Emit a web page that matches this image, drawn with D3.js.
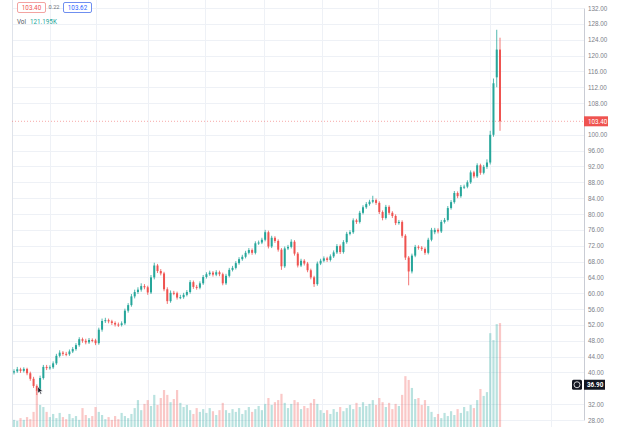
<!DOCTYPE html>
<html>
<head>
<meta charset="utf-8">
<script src="https://cdn.jsdelivr.net/npm/d3@7"></script>
<style>
  html, body { margin: 0; padding: 0; background: #fff; }
  svg { display: block; font-family: Roboto, 'Noto Sans', sans-serif; }
</style>
</head>
<body>
<svg id="chart" width="624" height="427"></svg>
<script>
// candles (oldest first)
const opens = [40.0, 40.3, 40.8, 40.4, 40.9, 39.8, 38.4, 36.6, 35.6, 38.6,
  41.4, 41.1, 41.3, 42.3, 44.2, 45.0, 44.7, 44.6, 45.3, 45.9,
  46.9, 48.4, 48.0, 47.6, 48.2, 48.1, 47.4, 50.8, 53.0, 53.2,
  52.9, 52.5, 52.1, 52.0, 52.4, 55.6, 57.0, 59.2, 60.3, 60.9,
  61.8, 61.5, 60.2, 64.0, 67.0, 65.6, 65.0, 61.0, 58.0, 60.1,
  60.0, 58.9, 59.0, 59.6, 60.3, 62.8, 61.6, 61.4, 62.5, 64.1,
  64.8, 65.2, 64.7, 65.3, 64.8, 62.5, 64.4, 65.9, 66.4, 67.6,
  68.6, 69.2, 70.2, 70.9, 70.2, 72.6, 72.8, 73.5, 75.4, 71.8,
  74.0, 73.2, 71.0, 66.8, 71.3, 71.7, 73.0, 70.0, 67.0, 68.2,
  67.5, 65.8, 64.0, 62.3, 67.5, 68.2, 68.8, 68.4, 69.3, 70.3,
  71.9, 70.4, 72.9, 75.0, 75.4, 78.4, 78.0, 80.3, 81.7, 82.5,
  83.1, 83.5, 82.8, 80.5, 79.0, 81.8, 80.3, 79.5, 77.7, 78.0,
  74.5, 69.0, 65.5, 69.5, 71.7, 71.5, 71.2, 70.2, 73.5, 75.4,
  76.0, 75.6, 78.0, 78.5, 81.5, 83.0, 85.3, 84.5, 86.8, 86.9,
  88.0, 90.5, 89.5, 92.3, 90.4, 91.9, 93.0, 100.0, 114.5, 121.5]

const highs = [40.8, 41.4, 41.2, 41.3, 41.2, 40.2, 38.9, 37.0, 39.2, 41.9,
  41.9, 41.8, 42.8, 44.7, 45.6, 45.4, 45.2, 45.8, 46.4, 47.4,
  48.9, 48.8, 48.5, 48.7, 48.6, 48.5, 51.3, 53.6, 53.8, 53.6,
  53.3, 52.9, 52.6, 52.9, 56.1, 57.5, 59.8, 60.9, 61.5, 62.5,
  62.3, 61.9, 64.6, 67.7, 67.4, 66.1, 65.4, 61.5, 60.7, 60.6,
  60.4, 59.6, 60.1, 60.8, 63.3, 63.2, 62.1, 63.0, 64.6, 65.3,
  65.7, 65.6, 65.8, 65.7, 65.2, 64.9, 66.4, 66.9, 68.1, 69.1,
  69.7, 70.7, 71.4, 71.3, 73.1, 73.3, 74.0, 76.0, 75.8, 74.5,
  74.4, 73.6, 71.4, 71.8, 72.2, 73.6, 73.4, 70.4, 68.7, 68.6,
  67.9, 66.2, 64.4, 68.0, 68.7, 69.3, 69.2, 69.8, 70.8, 72.4,
  72.3, 73.4, 75.5, 75.9, 78.9, 78.8, 80.8, 82.2, 83.0, 83.6,
  84.6, 83.9, 83.2, 80.9, 82.3, 82.2, 80.7, 79.9, 78.5, 78.4,
  74.9, 69.4, 70.0, 72.2, 72.1, 71.9, 71.6, 74.0, 76.5, 76.5,
  76.4, 78.5, 79.0, 82.0, 83.5, 85.8, 85.7, 87.3, 87.4, 88.5,
  91.0, 90.9, 92.8, 92.7, 92.4, 93.8, 101.0, 114.2, 126.5, 124.5]

const lows = [39.5, 39.9, 39.9, 40.0, 39.3, 37.9, 36.1, 34.3, 35.2, 38.2,
  40.6, 40.7, 40.9, 41.9, 43.8, 44.2, 44.1, 44.2, 44.9, 45.5,
  46.5, 47.5, 47.1, 47.2, 47.6, 46.9, 47.0, 50.3, 52.5, 52.4,
  52.0, 51.6, 51.5, 51.6, 52.0, 55.1, 56.6, 58.7, 59.8, 60.4,
  61.0, 59.6, 59.8, 63.5, 65.1, 64.5, 60.5, 57.3, 57.6, 59.5,
  58.4, 58.5, 58.6, 59.2, 59.9, 61.1, 60.9, 61.0, 62.1, 63.7,
  64.4, 64.2, 64.3, 64.3, 62.0, 62.1, 64.0, 65.5, 66.0, 67.2,
  68.2, 68.8, 69.8, 69.7, 69.8, 72.2, 72.4, 73.1, 71.3, 71.4,
  72.7, 70.5, 65.9, 66.4, 70.9, 71.3, 69.5, 66.5, 66.6, 67.0,
  65.3, 63.5, 61.6, 61.9, 67.1, 67.8, 67.9, 68.0, 68.9, 69.9,
  69.9, 70.0, 72.5, 74.6, 75.0, 77.5, 77.6, 79.9, 81.3, 82.1,
  82.7, 82.3, 80.0, 78.4, 78.6, 79.8, 79.0, 77.2, 77.3, 74.0,
  68.4, 62.0, 65.0, 69.1, 71.0, 70.7, 69.7, 69.8, 73.1, 74.9,
  75.1, 75.2, 77.6, 78.1, 81.1, 82.6, 84.0, 84.1, 86.3, 86.5,
  87.6, 89.0, 89.1, 89.9, 90.0, 91.4, 92.5, 99.5, 112.0, 101.0]

const closes = [40.3, 40.8, 40.4, 40.9, 39.8, 38.4, 36.6, 35.4, 38.6, 41.4,
  41.1, 41.3, 42.3, 44.2, 45.0, 44.7, 44.6, 45.3, 45.9, 46.9,
  48.4, 48.0, 47.6, 48.2, 48.1, 47.4, 50.8, 53.0, 53.2, 52.9,
  52.5, 52.1, 52.0, 52.4, 55.6, 57.0, 59.2, 60.3, 60.9, 61.8,
  61.5, 60.2, 64.0, 67.0, 65.6, 65.0, 61.0, 58.0, 60.1, 60.0,
  58.9, 59.0, 59.6, 60.3, 62.8, 61.6, 61.4, 62.5, 64.1, 64.8,
  65.2, 64.7, 65.3, 64.8, 62.5, 64.4, 65.9, 66.4, 67.6, 68.6,
  69.2, 70.2, 70.9, 70.2, 72.6, 72.8, 73.5, 75.4, 71.8, 74.0,
  73.2, 71.0, 66.8, 71.3, 71.7, 73.0, 70.0, 67.0, 68.2, 67.5,
  65.8, 64.0, 62.3, 67.5, 68.2, 68.8, 68.4, 69.3, 70.3, 71.9,
  70.4, 72.9, 75.0, 75.4, 78.4, 78.0, 80.3, 81.7, 82.5, 83.1,
  83.5, 82.8, 80.5, 79.0, 81.8, 80.3, 79.5, 77.7, 78.0, 74.5,
  69.0, 65.5, 69.5, 71.7, 71.5, 71.2, 70.2, 73.5, 76.0, 76.0,
  75.6, 78.0, 78.5, 81.5, 83.0, 85.3, 84.5, 86.8, 86.9, 88.0,
  90.5, 89.5, 92.3, 90.4, 91.9, 93.0, 100.0, 113.0, 121.5, 103.4]

// volume in thousands
const volumes = [35, 32, 40, 35, 43, 37, 58, 121, 78, 72,
  58, 43, 52, 40, 55, 43, 37, 52, 40, 46,
  35, 69, 49, 40, 46, 72, 58, 49, 37, 43,
  35, 46, 37, 55, 46, 40, 52, 69, 92, 63,
  81, 92, 75, 107, 78, 98, 121, 107, 86, 95,
  121, 84, 72, 78, 63, 52, 69, 58, 66, 55,
  69, 60, 49, 63, 84, 63, 55, 66, 58, 69,
  52, 63, 72, 58, 66, 75, 63, 81, 98, 78,
  86, 92, 110, 84, 69, 81, 92, 86, 66, 75,
  69, 84, 95, 81, 63, 55, 63, 52, 66, 58,
  72, 60, 69, 78, 66, 84, 72, 86, 75, 81,
  92, 78, 98, 86, 72, 84, 66, 81, 75, 107,
  161, 150, 127, 95, 98, 78, 92, 75, 58, 43,
  52, 40, 55, 46, 60, 49, 66, 55, 72, 60,
  78, 69, 92, 124, 104, 115, 285, 265, 311, 314]

const priceTicks = [132, 128, 124, 120, 116, 112, 108, 100, 96, 92, 88, 84,
  80, 76, 72, 68, 64, 60, 56, 52, 48, 44, 40, 32, 28]

// time grid lines sit between these candle indices
const timeGrid = [11, 25, 41, 58.5, 76.5, 94.5, 111.5, 130, 146, 164.5]

const lastPrice = 103.40
const bidPrice = 103.40
const spread = 0.22
const askPrice = 103.62
const crossPrice = 36.90
const crossIndex = 7
const volText = '121.195K'

const UP = '#26a69a'
const DOWN = '#ef5350'

const svg = d3.select('#chart')
const plotLeft = 12
const axisX = 584

const x = d3.scaleLinear()
  .domain([0, closes.length - 1])
  .range([14, 500])

const y = d3.scaleLinear()
  .domain([28, 132])
  .range([420, 8])

const yVol = d3.scaleLinear()
  .domain([0, 320])
  .range([432, 321])

// grid
svg.append('g')
  .selectAll('line')
  .data(priceTicks)
  .enter()
  .append('line')
  .attr('x1', plotLeft)
  .attr('x2', axisX)
  .attr('y1', (d) => Math.round(y(d)) + 0.5)
  .attr('y2', (d) => Math.round(y(d)) + 0.5)
  .attr('stroke', '#eef1f6')

svg.append('g')
  .selectAll('line')
  .data(timeGrid)
  .enter()
  .append('line')
  .attr('x1', (d) => Math.round(x(d)) + 0.5)
  .attr('x2', (d) => Math.round(x(d)) + 0.5)
  .attr('y1', 0)
  .attr('y2', 427)
  .attr('stroke', '#eef1f6')

// left frame edge
svg.append('line')
  .attr('x1', plotLeft + 0.5)
  .attr('x2', plotLeft + 0.5)
  .attr('y1', 0)
  .attr('y2', 427)
  .attr('stroke', '#dfe3ea')

const candles = closes.map((c, i) => ({
  i,
  o: opens[i],
  h: highs[i],
  l: lows[i],
  c,
  v: volumes[i]
}))

const bw = 2

// volume
svg.append('g')
  .selectAll('rect')
  .data(candles)
  .enter()
  .append('rect')
  .attr('x', (d) => x(d.i) - 1.1)
  .attr('width', 2.2)
  .attr('y', (d) => yVol(d.v))
  .attr('height', (d) => yVol(0) - yVol(d.v))
  .attr('fill', (d) => (d.c >= d.o ? UP : DOWN))
  .attr('fill-opacity', 0.32)

// last price line
svg.append('line')
  .attr('x1', plotLeft)
  .attr('x2', axisX)
  .attr('y1', y(lastPrice))
  .attr('y2', y(lastPrice))
  .attr('stroke', DOWN)
  .attr('stroke-opacity', 0.5)
  .attr('stroke-dasharray', '1,2')

// candles
const cg = svg.append('g')
cg.selectAll('line')
  .data(candles)
  .enter()
  .append('line')
  .attr('x1', (d) => x(d.i))
  .attr('x2', (d) => x(d.i))
  .attr('y1', (d) => y(d.h))
  .attr('y2', (d) => y(d.l))
  .attr('stroke', (d) => (d.c >= d.o ? UP : DOWN))
  .attr('stroke-width', 0.8)

cg.selectAll('rect')
  .data(candles)
  .enter()
  .append('rect')
  .attr('x', (d) => x(d.i) - bw / 2)
  .attr('width', bw)
  .attr('y', (d) => y(Math.max(d.o, d.c)))
  .attr('height', (d) => Math.max(1, Math.abs(y(d.o) - y(d.c))))
  .attr('fill', (d) => (d.c >= d.o ? UP : DOWN))

// price scale
const axis = svg.append('g')
  .attr('transform', `translate(${axisX},0)`)
  .call(d3.axisRight(y).tickValues(priceTicks).tickFormat(d3.format('.2f')).tickSize(0).tickPadding(4))

axis.select('.domain').attr('stroke', '#c9ccd4')
axis.selectAll('text')
  .attr('fill', '#7b7e88')
  .style('font-size', '6.3px')

// last price tag
const tag = svg.append('g')
  .attr('transform', `translate(${axisX},${y(lastPrice)})`)
tag.append('rect')
  .attr('x', 0)
  .attr('y', -5)
  .attr('width', 24)
  .attr('height', 10)
  .attr('fill', DOWN)
tag.append('text')
  .attr('x', 4)
  .attr('dy', '0.35em')
  .attr('fill', '#fff')
  .style('font-size', '6.3px')
  .text(d3.format('.2f')(lastPrice))

// crosshair price tag and the add-alert button
const cross = svg.append('g')
  .attr('transform', `translate(${axisX},${y(crossPrice)})`)
cross.append('rect')
  .attr('x', 0)
  .attr('y', -5)
  .attr('width', 21)
  .attr('height', 10)
  .attr('fill', '#131722')
cross.append('text')
  .attr('x', 3)
  .attr('dy', '0.35em')
  .attr('fill', '#fff')
  .style('font-size', '6.3px')
  .style('font-weight', 'bold')
  .text(d3.format('.2f')(crossPrice))
cross.append('rect')
  .attr('x', -12)
  .attr('y', -5)
  .attr('width', 10)
  .attr('height', 10)
  .attr('rx', 1.5)
  .attr('fill', '#131722')
cross.append('circle')
  .attr('cx', -7)
  .attr('cy', 0)
  .attr('r', 3)
  .attr('fill', 'none')
  .attr('stroke', '#fff')
  .attr('stroke-width', 0.8)

// mouse pointer over the crosshair candle
const px = x(crossIndex) + 1
const py = y(crossPrice) + 2
svg.append('path')
  .attr('d', `M${px},${py} l0,6.5 l1.6,-1.5 l1.2,2.6 l1,-0.5 l-1.2,-2.5 l2.2,0 z`)
  .attr('fill', '#131722')
  .attr('stroke', '#fff')
  .attr('stroke-width', 0.5)

// top-left legend
const legend = svg.append('g').style('font-size', '6.3px')
legend.append('rect')
  .attr('x', 17.5)
  .attr('y', 2.5)
  .attr('width', 28)
  .attr('height', 10)
  .attr('rx', 1.5)
  .attr('fill', '#fff')
  .attr('stroke', '#f3a3a1')
legend.append('text')
  .attr('x', 31.5)
  .attr('y', 7.5)
  .attr('dy', '0.35em')
  .attr('text-anchor', 'middle')
  .attr('fill', DOWN)
  .text(d3.format('.2f')(bidPrice))
legend.append('text')
  .attr('x', 54)
  .attr('y', 7.5)
  .attr('dy', '0.35em')
  .attr('text-anchor', 'middle')
  .attr('fill', '#6a6d78')
  .style('font-size', '5.6px')
  .text(spread.toFixed(2))
legend.append('rect')
  .attr('x', 63.5)
  .attr('y', 2.5)
  .attr('width', 28)
  .attr('height', 10)
  .attr('rx', 1.5)
  .attr('fill', '#fff')
  .attr('stroke', '#6f8ff0')
legend.append('text')
  .attr('x', 77.5)
  .attr('y', 7.5)
  .attr('dy', '0.35em')
  .attr('text-anchor', 'middle')
  .attr('fill', '#2962ff')
  .text(d3.format('.2f')(askPrice))
legend.append('text')
  .attr('x', 17)
  .attr('y', 22)
  .attr('dy', '0.35em')
  .attr('fill', '#50535e')
  .text('Vol')
legend.append('text')
  .attr('x', 30)
  .attr('y', 22)
  .attr('dy', '0.35em')
  .attr('fill', UP)
  .text(volText)
</script>
</body>
</html>
